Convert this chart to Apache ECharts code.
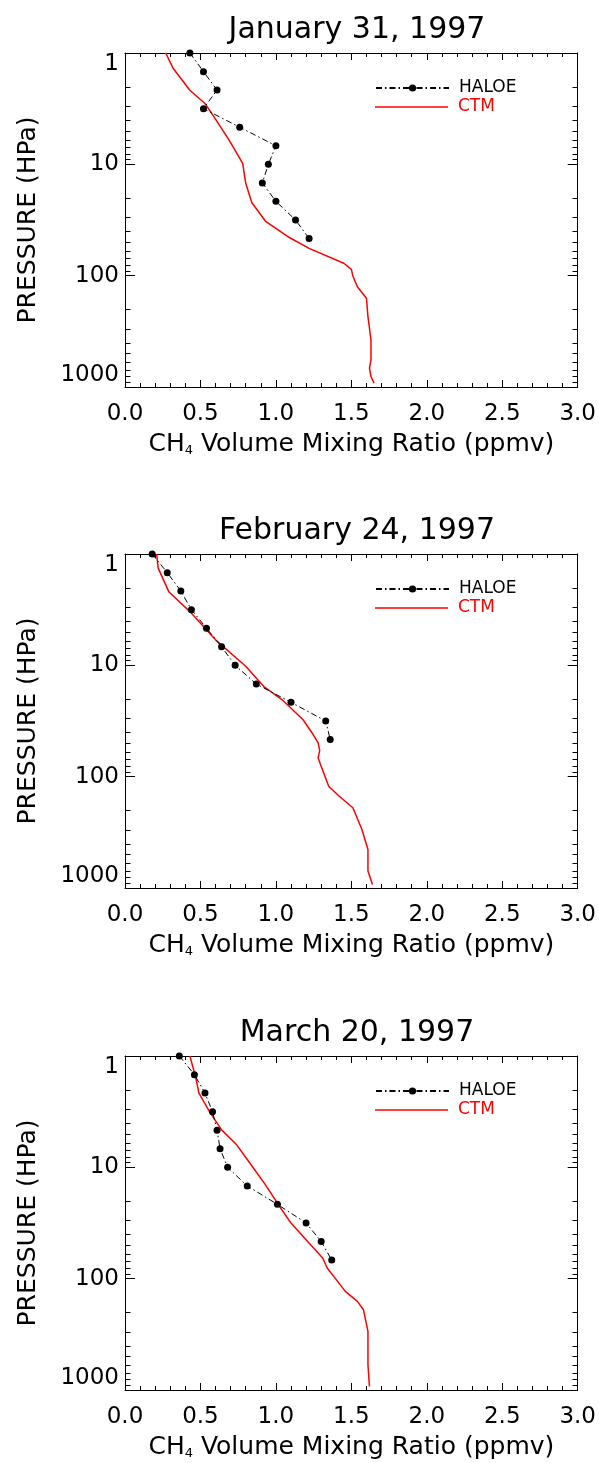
<!DOCTYPE html>
<html><head><meta charset="utf-8">
<script src="https://cdn.jsdelivr.net/npm/echarts@6/dist/echarts.min.js"></script>
<style>html,body{margin:0;padding:0;background:#fff}#c{width:599px;height:1463px}</style>
</head><body><div id="c"></div>
<script>
// ---- data ----
const titles = ['January 31, 1997', 'February 24, 1997', 'March 20, 1997'];
const xTickLabels = ['0.0', '0.5', '1.0', '1.5', '2.0', '2.5', '3.0'];
const yTickLabels = ['1', '10', '100', '1000'];
const minorP = [2,3,4,5,6,7,8,9,20,30,40,50,60,70,80,90,200,300,400,500,600,700,800,900];

const haloeP1 = [1, 1.47, 2.15, 3.16, 4.64, 6.81, 10, 14.7, 21.5, 31.6, 46.4];
const haloeX1 = [0.43, 0.52, 0.61, 0.52, 0.76, 1.00, 0.95, 0.91, 1.00, 1.13, 1.22];
const ctmP1 = [1, 1.38, 2.16, 2.84, 3.75, 6.07, 9.8, 14.8, 22, 32.3, 44.7, 56.8, 77.4, 87.7, 100.6, 125.6, 159.6, 233, 377, 570, 677, 805, 923];
const ctmX1 = [0.27, 0.32, 0.43, 0.53, 0.59, 0.69, 0.78, 0.80, 0.84, 0.93, 1.08, 1.22, 1.45, 1.50, 1.51, 1.54, 1.60, 1.61, 1.63, 1.63, 1.62, 1.63, 1.65];

const haloeP2 = [1, 1.47, 2.15, 3.16, 4.64, 6.81, 10, 14.7, 21.5, 31.6, 46.4];
const haloeX2 = [0.18, 0.28, 0.37, 0.44, 0.54, 0.64, 0.73, 0.87, 1.10, 1.33, 1.36];
const ctmP2 = [1, 1.34, 2.18, 3.29, 5.9, 10.2, 15.5, 20.3, 30.8, 40.5, 49.8, 58, 67.9, 80.7, 122, 150, 190, 298, 451, 705, 929];
const ctmX2 = [0.21, 0.22, 0.29, 0.43, 0.60, 0.80, 0.92, 1.04, 1.18, 1.24, 1.28, 1.29, 1.28, 1.30, 1.35, 1.42, 1.51, 1.57, 1.61, 1.61, 1.64];

const haloeP3 = [1, 1.47, 2.15, 3.16, 4.64, 6.81, 10, 14.7, 21.5, 31.6, 46.4, 68.1];
const haloeX3 = [0.36, 0.46, 0.53, 0.58, 0.61, 0.63, 0.68, 0.81, 1.01, 1.20, 1.30, 1.37];
const ctmP3 = [1, 1.59, 2.16, 3.16, 4.61, 6.28, 8.87, 14.3, 21, 31.7, 44.7, 65.3, 80.3, 102, 130, 160, 190, 298, 593, 929];
const ctmX3 = [0.43, 0.47, 0.49, 0.56, 0.64, 0.74, 0.82, 0.93, 1.01, 1.10, 1.20, 1.31, 1.34, 1.40, 1.46, 1.54, 1.58, 1.61, 1.61, 1.62];

const panels = [
  {hx: haloeX1, hp: haloeP1, cx: ctmX1, cp: ctmP1},
  {hx: haloeX2, hp: haloeP2, cx: ctmX2, cp: ctmP2},
  {hx: haloeX3, hp: haloeP3, cx: ctmX3, cp: ctmP3}
];

// ---- layout / style ----
const FONT = 'DejaVu Sans';
const tops = [53, 554, 1056];
const GL = 125, GW = 454, GH = 334;

const grid = [], xAxis = [], yAxis = [], series = [], title = [], legend = [];
panels.forEach((pd, i) => {
  const top = tops[i];
  grid.push({left: GL, top: top, width: GW, height: GH, containLabel: false});
  title.push({text: titles[i], left: GL + GW / 2, top: top - 43, textAlign: 'center',
    textStyle: {fontFamily: FONT, fontSize: 30, fontWeight: 'normal', color: '#000'}});
  const xCommon = {type: 'value', gridIndex: i, min: 0, max: 3, interval: 0.5,
    axisLine: {show: true, onZero: false, lineStyle: {color: '#000', width: 1}},
    axisTick: {show: true, inside: true, length: 7, lineStyle: {color: '#000'}},
    minorTick: {show: true, splitNumber: 5, length: 4, lineStyle: {color: '#000'}},
    splitLine: {show: false}, minorSplitLine: {show: false}};
  xAxis.push(Object.assign({}, xCommon, {position: 'bottom',
    axisLabel: {show: true, margin: 16, fontFamily: FONT, fontSize: 23, color: '#000',
      formatter: v => xTickLabels[Math.round(v / 0.5)]},
    name: 'CH{sub|4} Volume Mixing Ratio (ppmv)', nameLocation: 'middle', nameGap: 45,
    nameTextStyle: {fontFamily: FONT, fontSize: 25, color: '#000',
      rich: {sub: {fontFamily: FONT, fontSize: 13, color: '#000', verticalAlign: 'bottom', padding: [10, 0, 0, 0]}}}}));
  xAxis.push(Object.assign({}, xCommon, {position: 'top', axisLabel: {show: false}}));
  const yCommon = {type: 'log', logBase: 10, gridIndex: i, min: 1, max: 1000, inverse: true,
    axisLine: {show: true, onZero: false, lineStyle: {color: '#000', width: 1}},
    axisTick: {show: true, inside: true, length: 10, lineStyle: {color: '#000'}},
    minorTick: {show: false}, splitLine: {show: false}};
  yAxis.push(Object.assign({}, yCommon, {position: 'left',
    axisLabel: {show: true, margin: 6, fontFamily: FONT, fontSize: 23, color: '#000',
      verticalAlignMinLabel: 'top', verticalAlignMaxLabel: 'bottom',
      formatter: v => yTickLabels[Math.round(Math.log10(v))]},
    name: 'PRESSURE (HPa)', nameLocation: 'middle', nameGap: 84, nameRotate: 90,
    nameTextStyle: {fontFamily: FONT, fontSize: 25, color: '#000'}}));
  yAxis.push(Object.assign({}, yCommon, {position: 'right', axisLabel: {show: false}}));

  series.push({name: 'HALOE', type: 'line', xAxisIndex: 2 * i, yAxisIndex: 2 * i,
    data: pd.hx.map((x, k) => [x, pd.hp[k]]),
    symbol: 'circle', symbolSize: 7, showAllSymbol: true,
    itemStyle: {color: '#000'},
    lineStyle: {color: '#000', width: 1, type: [6, 3, 1.5, 3]}, z: 3, animation: false});
  series.push({name: 'CTM', type: 'line', xAxisIndex: 2 * i, yAxisIndex: 2 * i,
    data: pd.cx.map((x, k) => [x, pd.cp[k]]),
    symbol: 'none', itemStyle: {color: '#ff0000'},
    lineStyle: {color: '#ff0000', width: 1.5}, z: 2, animation: false});
  series.push({type: 'custom', xAxisIndex: 2 * i, yAxisIndex: 2 * i, silent: true, clip: false, z: 4,
    animation: false,
    data: minorP.map(v => [0, v]),
    renderItem: (params, api) => {
      const cs = params.coordSys;
      const y = Math.round(api.coord([0, api.value(1)])[1]) + 0.5;
      const xl = Math.round(cs.x) + 0.5, xr = Math.round(cs.x + cs.width) - 0.5;
      return {type: 'group', children: [
        {type: 'line', shape: {x1: xl, y1: y, x2: xl + 5, y2: y}, style: {stroke: '#000', lineWidth: 1}},
        {type: 'line', shape: {x1: xr - 5, y1: y, x2: xr, y2: y}, style: {stroke: '#000', lineWidth: 1}}
      ]};
    }});

  legend.push({orient: 'vertical', left: 370, top: top + 21.5, itemWidth: 73, itemHeight: 9,
    selectedMode: false, data: [{name: 'HALOE', textStyle: {color: '#000'}}],
    textStyle: {fontFamily: FONT, fontSize: 17, color: '#000', padding: [0, 0, 10, 5]}});
  legend.push({orient: 'vertical', left: 370, top: top + 40.5, itemWidth: 73, itemHeight: 1.5,
    selectedMode: false, data: [{name: 'CTM', icon: 'rect', itemStyle: {color: '#ff0000'}, textStyle: {color: '#ff0000'}}],
    textStyle: {fontFamily: FONT, fontSize: 17, color: '#ff0000', padding: [0, 0, 10, 5]}});
});

const chart = echarts.init(document.getElementById('c'), null, {renderer: 'canvas'});
chart.setOption({animation: false, backgroundColor: '#fff', title, legend, grid, xAxis, yAxis, series});
</script></body></html>
